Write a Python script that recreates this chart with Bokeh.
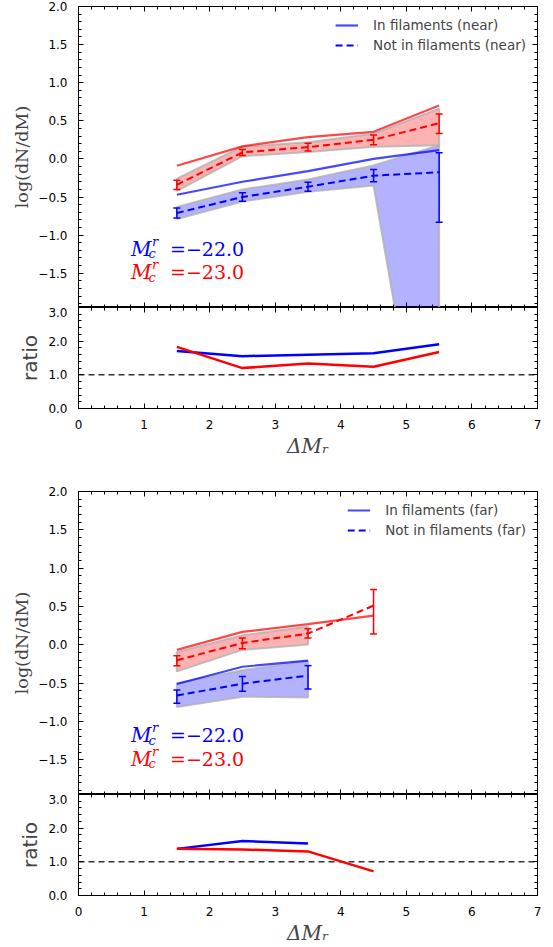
import numpy as np
from bokeh.plotting import figure
from bokeh.layouts import column
from bokeh.models import (ColumnDataSource, Whisker, TeeHead, Span, Label,
                          LinearAxis, FixedTicker, Range1d, Legend, LegendItem)
from bokeh.embed import file_html
from bokeh.resources import INLINE

# ------------------------------------------------------------------ data
# near sample (top pair of panels)
near_x = [1.5, 2.5, 3.5, 4.5, 5.5]
near_red_in = [-0.09, 0.165, 0.285, 0.355, 0.70]
near_red_out = [-0.34, 0.085, 0.155, 0.25, 0.47]
near_red_out_lo = [-0.40, 0.045, 0.105, 0.185, 0.335]
near_red_out_hi = [-0.28, 0.125, 0.205, 0.315, 0.59]
near_red_band_lo = [-0.42, 0.035, 0.09, 0.16, 0.18]
near_red_band_hi = [-0.26, 0.16, 0.22, 0.33, 0.66]
near_blue_in = [-0.47, -0.30, -0.16, 0.0, 0.115]
near_blue_out = [-0.71, -0.50, -0.365, -0.22, -0.175]
near_blue_out_lo = [-0.775, -0.555, -0.425, -0.30, -0.83]
near_blue_out_hi = [-0.645, -0.445, -0.305, -0.14, 0.08]
near_blue_band_lo = [-0.79, -0.56, -0.43, -0.35, -5.3]
near_blue_band_hi = [-0.63, -0.40, -0.27, -0.085, 0.18]
near_ratio_blue = [1.71, 1.555, 1.60, 1.64, 1.91]
near_ratio_red = [1.83, 1.20, 1.34, 1.24, 1.68]

# far sample (bottom pair of panels)
far_x_blue = [1.5, 2.5, 3.5]
far_x_red = [1.5, 2.5, 3.5, 4.5]
far_band_x = [1.5, 2.5, 3.5]
far_red_in = [-0.065, 0.17, 0.27, 0.383]
far_red_out = [-0.20, 0.026, 0.148, 0.513]
far_red_out_lo = [-0.27, -0.05, 0.09, 0.143]
far_red_out_hi = [-0.14, 0.09, 0.21, 0.722]
far_red_band_lo = [-0.345, -0.065, 0.005]
far_red_band_hi = [-0.095, 0.125, 0.24]
far_blue_in = [-0.51, -0.285, -0.205]
far_blue_out = [-0.66, -0.505, -0.40]
far_blue_out_lo = [-0.76, -0.605, -0.575]
far_blue_out_hi = [-0.587, -0.413, -0.27]
far_blue_band_lo = [-0.81, -0.675, -0.685]
far_blue_band_hi = [-0.50, -0.33, -0.21]
far_ratio_blue = [1.385, 1.62, 1.545]
far_ratio_red = [1.385, 1.365, 1.31, 0.715]

# axis ticks / labels
x_ticks = [0, 1, 2, 3, 4, 5, 6, 7]
main_ticks = [-1.5, -1.0, -0.5, 0.0, 0.5, 1.0, 1.5, 2.0]
ratio_ticks = [0.0, 1.0, 2.0, 3.0]
MAIN_Y = (-1.95, 2.0)
RATIO_Y = (0.0, 3.0)
X_LIM = (0.0, 7.0)
RATIO_REF = 1.0
MC_X = 0.80
MC_Y_BLUE = -1.18
MC_Y_RED = -1.485

RED = "#ff0000"
BLUE = "#0000ff"
FW = 459


def fmt(v):
    return f"{v:.1f}".replace("-", "\u2212")


def style_axis(ax, ticks, minor, show_labels, overrides=None):
    ax.ticker = FixedTicker(ticks=list(ticks), minor_ticks=list(minor))
    ax.major_tick_in = 5
    ax.major_tick_out = 0
    ax.minor_tick_in = 3
    ax.minor_tick_out = 0
    ax.axis_line_color = "black"
    ax.major_tick_line_color = "black"
    ax.minor_tick_line_color = "black"
    if show_labels:
        ax.major_label_text_font = "DejaVu Sans"
        ax.major_label_text_font_size = "12px"
        ax.major_label_text_color = "black"
        ax.major_label_standoff = 11
        if overrides:
            ax.major_label_overrides = overrides
    else:
        ax.major_label_text_font_size = "0px"
        ax.major_label_text_color = None
        ax.major_label_standoff = 0


x_minor = np.round(np.arange(0, 7.001, 0.2), 2).tolist()
main_minor = np.round(np.arange(-1.9, 2.001, 0.1), 2).tolist()
ratio_minor = np.round(np.arange(0, 3.001, 0.2), 2).tolist()


def base_fig(fh, yr, left, right, top, bottom):
    p = figure(frame_width=FW, frame_height=fh,
               x_range=Range1d(*X_LIM), y_range=Range1d(*yr),
               output_backend="svg", toolbar_location=None,
               min_border_left=left, min_border_right=right,
               min_border_top=top, min_border_bottom=bottom)
    p.xgrid.visible = False
    p.ygrid.visible = False
    p.outline_line_color = "black"
    p.background_fill_color = "white"
    p.border_fill_color = "white"
    p.add_layout(LinearAxis(), "above")
    p.add_layout(LinearAxis(), "right")
    return p


def make_main(left, right, top, fh, xs, red_in, red_out, red_lo, red_hi, band_x,
              rb_lo, rb_hi, blue_x, blue_in, blue_out, blue_lo, blue_hi,
              bb_lo, bb_hi, red_x, tag):
    p = base_fig(fh, MAIN_Y, left, right, top, 0)
    style_axis(p.left[0], main_ticks, main_minor, True, {v: fmt(v) for v in main_ticks})
    style_axis(p.right[0], main_ticks, main_minor, False)
    style_axis(p.below[0], x_ticks, x_minor, False)
    style_axis(p.above[0], x_ticks, x_minor, False)
    lax = p.left[0]
    lax.axis_label = "log(dN/dM)"
    lax.axis_label_text_font = "DejaVu Serif"
    lax.axis_label_text_font_size = "17.5px"
    lax.axis_label_text_font_style = "normal"
    lax.axis_label_standoff = 3

    # bands
    p.patch(list(band_x) + list(band_x)[::-1], list(rb_hi) + list(rb_lo)[::-1],
            fill_color=RED, fill_alpha=0.3, line_color="#b0b0b0",
            line_alpha=0.8, line_width=2)
    p.patch(list(band_x) + list(band_x)[::-1], list(bb_hi) + list(bb_lo)[::-1],
            fill_color=BLUE, fill_alpha=0.3, line_color="#b0b0b0",
            line_alpha=0.8, line_width=2)

    p.line(red_x, red_in, line_color=RED, line_alpha=0.72, line_width=2.2)
    p.line(red_x, red_out, line_color=RED, line_width=2, line_dash="7 4")
    r_bin = p.line(blue_x, blue_in, line_color=BLUE, line_alpha=0.72, line_width=2.2)
    r_bout = p.line(blue_x, blue_out, line_color=BLUE, line_width=2, line_dash="7 4")

    for xx, lo, hi, c in ((red_x, red_lo, red_hi, RED), (blue_x, blue_lo, blue_hi, BLUE)):
        src = ColumnDataSource(dict(x=xx, lo=lo, hi=hi))
        w = Whisker(source=src, base="x", lower="lo", upper="hi",
                    dimension="height", line_color=c, line_width=1.5,
                    upper_head=TeeHead(size=7, line_color=c, line_width=1.5),
                    lower_head=TeeHead(size=7, line_color=c, line_width=1.5),
                    level="overlay")
        p.add_layout(w)

    leg = Legend(items=[LegendItem(label=f"In filaments ({tag})", renderers=[r_bin]),
                        LegendItem(label=f"Not in filaments ({tag})", renderers=[r_bout])],
                 location="top_right", margin=0, padding=11, spacing=4,
                 glyph_width=23, glyph_height=16, label_height=16,
                 label_standoff=15, label_text_font="DejaVu Sans",
                 label_text_font_size="13.5px", background_fill_alpha=0,
                 border_line_alpha=0)
    p.add_layout(leg)

    for yv, c, val in ((MC_Y_BLUE, BLUE, -22.0), (MC_Y_RED, RED, -23.0)):
        kw = dict(x=MC_X, y=yv, text_color=c, text_font="DejaVu Serif",
                  text_baseline="alphabetic", text_align="left")
        p.add_layout(Label(text="M", text_font_size="20px", text_font_style="italic", **kw))
        p.add_layout(Label(text="r", x_offset=21, y_offset=7.5, text_font_size="13px",
                           text_font_style="italic", **kw))
        p.add_layout(Label(text="c", x_offset=17.5, y_offset=-5, text_font_size="13px",
                           text_font_style="italic", **kw))
        p.add_layout(Label(text="=" + fmt(val), x_offset=39, text_font_size="19px", **kw))
    return p


def make_ratio(left, right, bottom, bx, by, rx, ry):
    p = base_fig(101, RATIO_Y, left, right, 0, bottom)
    style_axis(p.left[0], ratio_ticks, ratio_minor, True, {v: fmt(v) for v in ratio_ticks})
    style_axis(p.right[0], ratio_ticks, ratio_minor, False)
    style_axis(p.above[0], x_ticks, x_minor, False)
    style_axis(p.below[0], x_ticks, x_minor, True, {v: str(v) for v in x_ticks})
    lax = p.left[0]
    lax.axis_label = "ratio"
    lax.axis_label_text_font = "DejaVu Sans"
    lax.axis_label_text_font_size = "20px"
    lax.axis_label_text_font_style = "normal"
    lax.axis_label_standoff = 3
    bax = p.below[0]
    bax.axis_label = "\u0394M\u1d63"
    bax.axis_label_text_font = "DejaVu Serif"
    bax.axis_label_text_font_size = "20px"
    bax.axis_label_text_font_style = "italic"
    bax.axis_label_standoff = 2
    p.add_layout(Span(location=RATIO_REF, dimension="width", line_color="#333333",
                      line_dash="6 4", line_width=1.5, level="underlay"))
    p.line(bx, by, line_color=BLUE, line_width=2.5)
    p.line(rx, ry, line_color=RED, line_width=2.5)
    return p


f1 = make_main(78, 16, 6, 301, near_x, near_red_in, near_red_out, near_red_out_lo,
               near_red_out_hi, near_x, near_red_band_lo, near_red_band_hi,
               near_x, near_blue_in, near_blue_out, near_blue_out_lo,
               near_blue_out_hi, near_blue_band_lo, near_blue_band_hi,
               near_x, "near")
f2 = make_ratio(78, 16, 75, near_x, near_ratio_blue, near_x, near_ratio_red)
f3 = make_main(73, 21, 8, 303, far_x_red, far_red_in, far_red_out, far_red_out_lo,
               far_red_out_hi, far_band_x, far_red_band_lo, far_red_band_hi,
               far_x_blue, far_blue_in, far_blue_out, far_blue_out_lo,
               far_blue_out_hi, far_blue_band_lo, far_blue_band_hi,
               far_x_red, "far")
f4 = make_ratio(73, 21, 52, far_x_blue, far_ratio_blue, far_x_red, far_ratio_red)

layout = column(f1, f2, f3, f4, spacing=0)
open("out.html", "w").write(file_html(layout, INLINE))
